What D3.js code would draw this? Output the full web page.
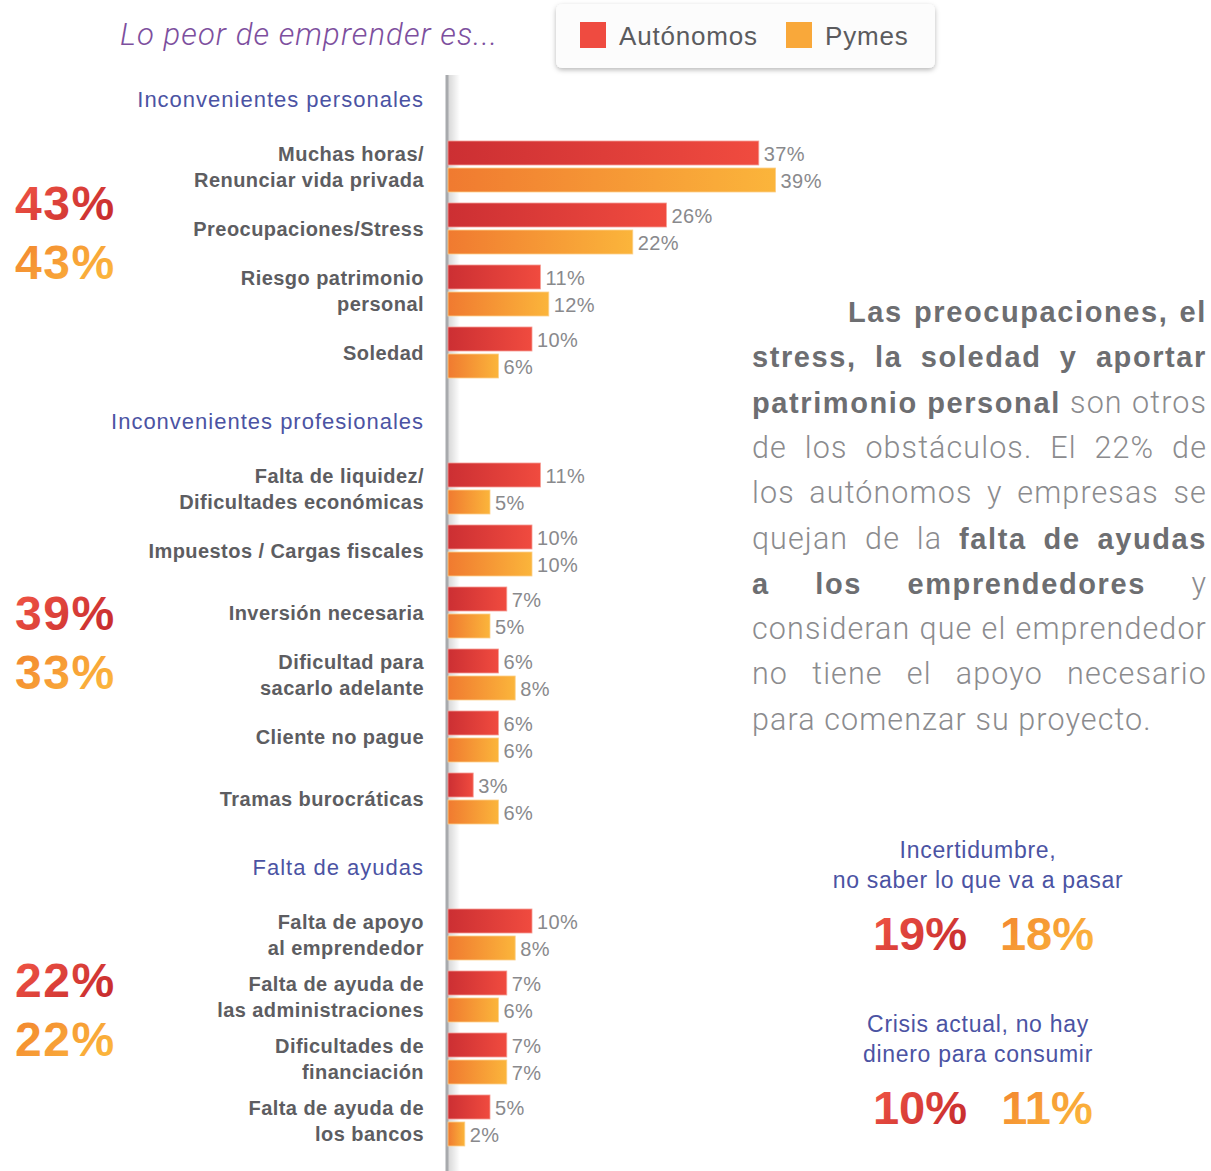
<!DOCTYPE html>
<html>
<head>
<meta charset="utf-8">
<script src="https://cdn.jsdelivr.net/npm/d3@7"></script>
<style>
  body { margin: 0; background: #fff; }
  svg { display: block; }
</style>
</head>
<body>
<script>
// --- data ---
var sections = ["Inconvenientes personales", "Inconvenientes profesionales", "Falta de ayudas"];
var categories = [
  { s: 0, label: ["Muchas horas/", "Renunciar vida privada"] },
  { s: 0, label: ["Preocupaciones/Stress"] },
  { s: 0, label: ["Riesgo patrimonio", "personal"] },
  { s: 0, label: ["Soledad"] },
  { s: 1, label: ["Falta de liquidez/", "Dificultades económicas"] },
  { s: 1, label: ["Impuestos / Cargas fiscales"] },
  { s: 1, label: ["Inversión necesaria"] },
  { s: 1, label: ["Dificultad para", "sacarlo adelante"] },
  { s: 1, label: ["Cliente no pague"] },
  { s: 1, label: ["Tramas burocráticas"] },
  { s: 2, label: ["Falta de apoyo", "al emprendedor"] },
  { s: 2, label: ["Falta de ayuda de", "las administraciones"] },
  { s: 2, label: ["Dificultades de", "financiación"] },
  { s: 2, label: ["Falta de ayuda de", "los bancos"] }
];
var autonomos = [37, 26, 11, 10, 11, 10, 7, 6, 6, 3, 10, 7, 7, 5];
var pymes     = [39, 22, 12, 6, 5, 10, 5, 8, 6, 6, 8, 6, 7, 2];
var sectionAutonomos = [43, 39, 22];
var sectionPymes     = [43, 33, 22];
var seriesNames = ["Autónomos", "Pymes"];

var extraTitles = [["Incertidumbre,", "no saber lo que va a pasar"], ["Crisis actual, no hay", "dinero para consumir"]];
var extraAutonomos = [19, 10];
var extraPymes = [18, 11];

var noteLines = [
  [["Las preocupaciones, el", true]],
  [["stress, la soledad y aportar", true]],
  [["patrimonio personal", true], ["son otros", false]],
  [["de los obstáculos. El 22% de", false]],
  [["los autónomos y empresas se", false]],
  [["quejan de la", false], ["falta de ayudas", true]],
  [["a los emprendedores", true], ["y", false]],
  [["consideran que el emprendedor", false]],
  [["no tiene el apoyo necesario", false]],
  [["para comenzar su proyecto.", false]]
];

// --- layout ---
var W = 1211, H = 1171;
var axisX = 447, labelX = 424;
var barH = 24, barGap = 3, pitch = 62, sectionGap = 74, firstTop = 141;
var sans = "'Helvetica Neue', 'Liberation Sans', Arial, sans-serif";
var light = "Roboto, 'Helvetica Neue', 'Liberation Sans', sans-serif";
var blue = "#4b53a3", grayLabel = "#5d5d61", grayValue = "#89898c";

var svg = d3.select("body").append("svg")
  .attr("width", W).attr("height", H);

var defs = svg.append("defs");
function grad(id, c0, c1, x2, y2) {
  var g = defs.append("linearGradient").attr("id", id)
    .attr("x1", 0).attr("y1", 0).attr("x2", x2).attr("y2", y2);
  g.append("stop").attr("offset", "0%").attr("stop-color", c0);
  g.append("stop").attr("offset", "100%").attr("stop-color", c1);
}
grad("barRed", "#cc2f33", "#f04b3f", 1, 0);
grad("barOrange", "#f07a30", "#fbb53b", 1, 0);
grad("txtRed", "#f25746", "#c92e2f", 1, 0.6);
grad("txtOrange", "#f2842f", "#fbb43c", 1, 0.6);
grad("axisShade", "rgba(0,0,0,0.16)", "rgba(0,0,0,0)", 1, 0);
var shadow = defs.append("filter").attr("id", "shadow")
  .attr("x", "-10%").attr("y", "-20%").attr("width", "120%").attr("height", "150%");
shadow.append("feDropShadow").attr("dx", 0).attr("dy", 2).attr("stdDeviation", 2.5)
  .attr("flood-color", "#000").attr("flood-opacity", 0.28);

var x = d3.scaleLinear().domain([0, 40]).range([axisX + 1, axisX + 1 + 40 * 8.4]);
var yRow = d3.scaleLinear().domain([0, 1]).range([firstTop, firstTop + pitch]);
function pairTop(i) { return yRow(i) + categories[i].s * sectionGap; }
var colorsBar = ["url(#barRed)", "url(#barOrange)"];
var colorsTxt = ["url(#txtRed)", "url(#txtOrange)"];

// title
svg.append("text")
  .attr("x", 120).attr("y", 45)
  .attr("font-family", light).attr("font-weight", 300).attr("font-style", "italic")
  .attr("font-size", 31).attr("letter-spacing", 1.1).attr("fill", "#7d4f9e")
  .text("Lo peor de emprender es...");

// legend box
var legend = svg.append("g").attr("class", "legend");
legend.append("rect")
  .attr("x", 556).attr("y", 4).attr("width", 379).attr("height", 64).attr("rx", 6)
  .attr("fill", "#fcfcfc").attr("filter", "url(#shadow)");
var legX = [580, 786];
seriesNames.forEach(function (n, i) {
  legend.append("rect").attr("x", legX[i]).attr("y", 22).attr("width", 26).attr("height", 26)
    .attr("fill", i === 0 ? "#ef4b40" : "#f9a83a");
  legend.append("text").attr("x", legX[i] + 39).attr("y", 45)
    .attr("font-family", sans).attr("font-size", 26).attr("letter-spacing", 0.8).attr("fill", "#5b5b5e")
    .text(n);
});

// axis line with soft shade
svg.append("rect").attr("x", axisX + 1).attr("y", 75).attr("width", 12).attr("height", H - 75)
  .attr("fill", "url(#axisShade)");
svg.append("line").attr("x1", axisX).attr("x2", axisX).attr("y1", 75).attr("y2", H)
  .attr("stroke", "#a8aaad").attr("stroke-width", 3);

// section headers
sections.forEach(function (s, k) {
  var first = categories.findIndex(function (c) { return c.s === k; });
  svg.append("text")
    .attr("x", labelX).attr("y", pairTop(first) - 34)
    .attr("text-anchor", "end")
    .attr("font-family", sans).attr("font-size", 22).attr("letter-spacing", 1)
    .attr("fill", blue)
    .text(s);
});

// category labels
var rows = svg.selectAll(".row").data(categories).enter().append("g").attr("class", "row");
rows.each(function (c, i) {
  var mid = pairTop(i) + barH + barGap / 2;
  var t = d3.select(this).append("text")
    .attr("text-anchor", "end")
    .attr("font-family", sans).attr("font-weight", "bold").attr("font-size", 20)
    .attr("letter-spacing", 0.45)
    .attr("fill", grayLabel);
  var n = c.label.length;
  c.label.forEach(function (line, j) {
    t.append("tspan").attr("x", labelX)
      .attr("y", mid + 7 + (j - (n - 1) / 2) * 26)
      .text(line);
  });
});

// bars
[autonomos, pymes].forEach(function (vals, k) {
  var g = svg.append("g").attr("class", "series-" + k);
  g.selectAll("rect").data(vals).enter().append("rect")
    .attr("x", x(0))
    .attr("y", function (d, i) { return pairTop(i) + k * (barH + barGap); })
    .attr("width", function (d) { return x(d) - x(0); })
    .attr("height", barH)
    .attr("fill", colorsBar[k])
    .attr("stroke", k === 0 ? "#f59b93" : "#fcd08a")
    .attr("stroke-width", 0.8);
  g.selectAll("text").data(vals).enter().append("text")
    .attr("x", function (d) { return x(d) + 5; })
    .attr("y", function (d, i) { return pairTop(i) + k * (barH + barGap) + barH / 2 + 7.5; })
    .attr("font-family", sans).attr("font-size", 20).attr("letter-spacing", 0.4)
    .attr("fill", grayValue)
    .text(function (d) { return d + "%"; });
});

// section totals on the left
var totalShift = [-26, 0, -17];
sections.forEach(function (s, k) {
  var idx = categories.map(function (c, i) { return c.s === k ? i : -1; }).filter(function (i) { return i >= 0; });
  var top = pairTop(idx[0]), bottom = pairTop(idx[idx.length - 1]) + 2 * barH + barGap;
  var mid = (top + bottom) / 2 + totalShift[k];
  [sectionAutonomos[k], sectionPymes[k]].forEach(function (v, j) {
    svg.append("text")
      .attr("x", 15).attr("y", mid - 14 + j * 59)
      .attr("font-family", sans).attr("font-weight", "bold").attr("font-size", 48)
      .attr("letter-spacing", 1.5)
      .attr("fill", colorsTxt[j])
      .text(v + "%");
  });
});

// justified note on the right
var noteLeft = 752, noteRight = 1207, noteTop = 322, noteLead = 45.3, indent = 96;
var note = svg.append("g").attr("class", "note");
noteLines.forEach(function (segs, li) {
  var words = [];
  segs.forEach(function (sg) {
    sg[0].split(" ").forEach(function (w) { words.push({ t: w, b: sg[1] }); });
  });
  var y = noteTop + li * noteLead;
  var nodes = words.map(function (w) {
    return note.append("text").attr("y", y)
      .attr("font-family", w.b ? sans : light)
      .attr("font-weight", w.b ? "bold" : 300)
      .attr("font-size", w.b ? 29 : 30.5)
      .attr("letter-spacing", w.b ? 1.6 : 1.1)
      .attr("fill", w.b ? "#6d6e71" : "#8b8b8e")
      .text(w.t);
  });
  var widths = nodes.map(function (n) { return n.node().getComputedTextLength(); });
  var start = noteLeft + (li === 0 ? indent : 0);
  var total = d3.sum(widths);
  var last = li === noteLines.length - 1;
  var gap = (words.length > 1 && !last) ? (noteRight - start - total) / (words.length - 1) : 8.5;
  var cx = start;
  nodes.forEach(function (n, i) {
    n.attr("x", cx);
    cx += widths[i] + gap;
  });
});

// extra items at bottom right
var extraCx = 978, extraTop = [858, 1032];
extraTitles.forEach(function (lines, k) {
  var t = svg.append("text").attr("text-anchor", "middle")
    .attr("font-family", sans).attr("font-size", 23).attr("letter-spacing", 0.7)
    .attr("fill", blue);
  lines.forEach(function (l, j) {
    t.append("tspan").attr("x", extraCx).attr("y", extraTop[k] + j * 29.5).text(l);
  });
  [extraAutonomos[k], extraPymes[k]].forEach(function (v, j) {
    svg.append("text")
      .attr("x", extraCx + (j === 0 ? -58 : 69)).attr("y", extraTop[k] + 92)
      .attr("text-anchor", "middle")
      .attr("font-family", sans).attr("font-weight", "bold").attr("font-size", 47)
      .attr("fill", colorsTxt[j])
      .text(v + "%");
  });
});
</script>
</body>
</html>
